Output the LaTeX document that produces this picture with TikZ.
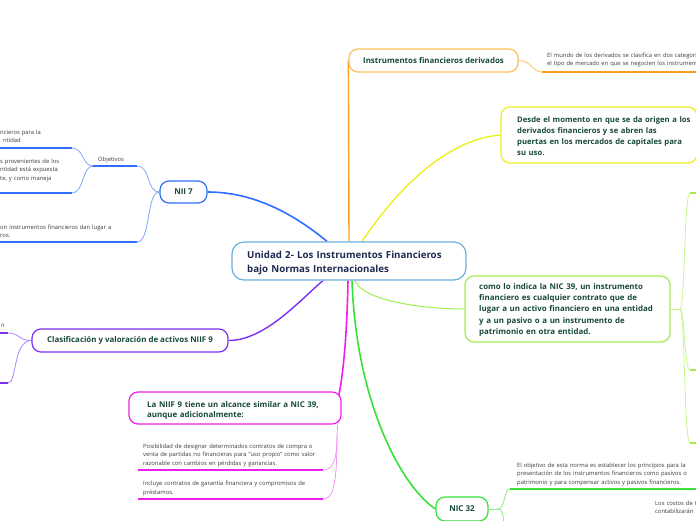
\documentclass[tikz,border=0pt]{standalone}
\usepackage{fontspec}
\setmainfont{Open Sans}
\pgfdeclarelayer{bg}
\pgfsetlayers{bg,main}
\definecolor{cblue}{HTML}{6BAEE0}
\definecolor{nblue}{HTML}{2F6EFF}
\definecolor{nblueL}{HTML}{7FA6FF}
\definecolor{orangeL}{HTML}{FFC05A}
\definecolor{orangeD}{HTML}{FF9E1B}
\definecolor{yel}{HTML}{EEEE22}
\definecolor{lime}{HTML}{A2EC50}
\definecolor{limeL}{HTML}{C6F590}
\definecolor{grn}{HTML}{38E038}
\definecolor{grnL}{HTML}{86EE86}
\definecolor{purp}{HTML}{7A30F5}
\definecolor{purpL}{HTML}{AB84FF}
\definecolor{mag}{HTML}{EE1EEE}
\definecolor{magL}{HTML}{F590F5}
\definecolor{tgreen}{HTML}{17493A}
\definecolor{navy}{HTML}{1E2A50}
\definecolor{tgray}{HTML}{3A3A3A}
\tikzset{
  box/.style={draw, fill=white, rounded corners=9pt, line width=1.2pt, inner sep=0pt},
  ttl/.style={font=\bfseries\fontsize{7.9}{11.1}\selectfont, text=tgreen},
  ttlblk/.style={ttl, inner sep=0pt, anchor=base west, align=left, text width=250pt},
  sml/.style={font=\fontsize{5.85}{8.7}\selectfont, text=tgray, inner sep=0pt, anchor=base west, align=left, text width=250pt},
  lbl/.style={font=\fontsize{5.85}{8.7}\selectfont, text=tgray, inner sep=0pt, anchor=base},
  conn/.style={line width=1.6pt},
  subl/.style={line width=0.8pt},
  uline/.style={line width=1.5pt},
}
\begin{document}
\begin{tikzpicture}[x=1pt,y=-1pt]
\path[use as bounding box] (0,0) rectangle (696,520);
\clip (0,0) rectangle (696,520);

% ---------- boxes ----------
\node[box, draw=cblue, rounded corners=12pt, minimum width=234pt, minimum height=38pt] (cen) at (349,261) {};
\node[font=\bfseries\fontsize{9.7}{14}\selectfont, text=navy, inner sep=0pt, anchor=base west, align=left, text width=230pt] (cent) at (247,258) {Unidad 2- Los Instrumentos Financieros\\bajo Normas Internacionales};

\node[box, draw=orangeL, ttl, minimum width=169pt, minimum height=23pt] (ins) at (433.5,60.5) {Instrumentos financieros derivados};

\node[box, draw=yel, minimum width=196pt, minimum height=56pt] (des) at (599,135) {};
\node[ttlblk, font=\bfseries\fontsize{7.7}{11.1}\selectfont] (dest) at (517,122.5) {Desde el momento en que se da origen a los\\derivados financieros y se abren las\\puertas en los mercados de capitales para\\su uso.};

\node[box, draw=lime, minimum width=205pt, minimum height=66pt] (como) at (567.5,309) {};
\node[ttlblk, font=\bfseries\fontsize{7.9}{11.25}\selectfont] (comot) at (479,289.3) {como lo indica la NIC 39, un instrumento\\financiero es cualquier contrato que de\\lugar a un activo financiero en una entidad\\y a un pasivo o a un instrumento de\\patrimonio en otra entidad.};

\node[box, draw=nblue, ttl, font=\bfseries\fontsize{8}{10}\selectfont, minimum width=47pt, minimum height=22pt] (nii) at (183.5,192) {NII 7};

\node[box, draw=purp, ttl, minimum width=196pt, minimum height=23pt] (cls) at (130,340.5) {Clasificación y valoración de activos NIIF 9};

\node[box, draw=mag, minimum width=212pt, minimum height=32pt] (niif) at (235,408) {};
\node[ttlblk, font=\bfseries\fontsize{7.9}{10.5}\selectfont] (niift) at (147,407) {La NIIF 9 tiene un alcance similar a NIC 39,\\aunque adicionalmente:};

\node[box, draw=grn, ttl, font=\bfseries\fontsize{8}{10}\selectfont, minimum width=52pt, minimum height=24pt] (nic) at (462,509) {NIC 32};

% ---------- coordinates ----------
\coordinate (o1a) at (542,72);  \coordinate (o1b) at (697,72);
\coordinate (oa) at (93,166);   \coordinate (ob) at (137,166);
\coordinate (n3a) at (-2,242);  \coordinate (n3) at (137,242);
\coordinate (b1a) at (-2,148);  \coordinate (b1) at (72,148);
\coordinate (b2a) at (-2,193);  \coordinate (b2) at (72,193);
\coordinate (p1a) at (-2,333);  \coordinate (p1) at (8,333);
\coordinate (p2a) at (-2,383);  \coordinate (p2) at (8,383);
\coordinate (mb) at (337,436);
\coordinate (m1a) at (138,470); \coordinate (m1) at (323,470);
\coordinate (m2a) at (138,499); \coordinate (m2) at (323,499);
\coordinate (lb) at (680,309);
\coordinate (l1) at (690,193);  \coordinate (l1a) at (697,193);
\coordinate (l2) at (690,370);  \coordinate (l2a) at (697,370);
\coordinate (l3) at (690,443);  \coordinate (l3a) at (697,443);
\coordinate (gb) at (498,509);
\coordinate (g1) at (510,489);  \coordinate (g1a) at (697,489);
\coordinate (g2) at (504,526);

% ---------- connectors (behind boxes) ----------
\begin{pgfonlayer}{bg}
\draw[conn, nblue] (nii.east) .. controls (255,192) and (295,215) .. ([xshift=-22pt]cen.north);
\draw[conn, orangeD, line width=1.4pt] (cen.north) -- (ins.west);
\draw[conn, yel, line width=1.4pt] ([xshift=13pt]cen.north) .. controls (390,200) and (440,140) .. (des.west);
\draw[conn, purp, line width=1.4pt] ([xshift=-26pt]cen.south) .. controls (300,300) and (265,340.5) .. (cls.east);
\draw[conn, mag] ([xshift=-1pt]cen.south) .. controls (347,330) and (344,370) .. ([xshift=-3pt,yshift=-5pt]niif.north east);
\draw[conn, grn] ([xshift=3pt]cen.south) .. controls (356,400) and (400,485) .. (nic.west);
\draw[conn, lime, line width=1pt] ([xshift=6pt]cen.south) .. controls (362,300) and (420,309) .. (como.west);

\draw[subl, orangeL] (ins.east) .. controls (532,60.5) and (532,72) .. (o1a);
\draw[subl, nblueL] (nii.west) .. controls (146,192) and (151,166) .. (ob);
\draw[subl, nblueL] (nii.west) .. controls (146,192) and (151,242) .. (n3);
\draw[subl, nblueL] (oa) .. controls (82,166) and (84,148) .. (b1);
\draw[subl, nblueL] (oa) .. controls (82,166) and (84,193) .. (b2);
\draw[subl, purpL] (cls.west) .. controls (18,340.5) and (20,333) .. (p1);
\draw[subl, purpL] (cls.west) .. controls (13,340.5) and (17,383) .. (p2);
\draw[subl, magL] ([xshift=-4pt]niif.south east) -- (mb);
\draw[subl, magL] (mb) .. controls (337,462) and (332,470) .. (m1);
\draw[subl, magL] (mb) .. controls (337,490) and (332,499) .. (m2);
\draw[subl, limeL] (como.east) -- (lb);
\draw[subl, limeL] (lb) .. controls (685,309) and (684,193) .. (l1);
\draw[subl, limeL] (lb) .. controls (685,309) and (684,370) .. (l2);
\draw[subl, limeL] (lb) .. controls (685,309) and (684,443) .. (l3);
\draw[subl, grnL] (nic.east) -- (gb);
\draw[subl, grnL] (gb) .. controls (505,509) and (504,489) .. (g1);
\draw[subl, grnL] (gb) .. controls (503,509) and (503,515) .. (g2);
\end{pgfonlayer}

% ---------- underlines ----------
\draw[uline, orangeD] (o1a) -- (o1b);
\draw[uline, nblue] (oa) -- (ob);
\draw[uline, nblue] (n3a) -- (n3);
\draw[uline, nblue] (b1a) -- (b1);
\draw[uline, nblue] (b2a) -- (b2);
\draw[uline, purp] (p1a) -- (p1);
\draw[uline, purp] (p2a) -- (p2);
\draw[uline, mag] (m1a) -- (m1);
\draw[uline, mag] (m2a) -- (m2);
\draw[uline, lime] (l1) -- (l1a);
\draw[uline, lime] (l2) -- (l2a);
\draw[uline, lime] (l3) -- (l3a);
\draw[uline, grn] (g1) -- (g1a);

% ---------- small texts ----------
\node[sml] (o1t) at (547,57) {El mundo de los derivados se clasifica en dos categori\\el tipo de mercado en que se negocien los instrument};
\node[lbl] (objt) at (111,161) {Objetivos};
\node[sml] (t1) at (0,134) {ncieros para la\\\hspace*{3pt}ntidad};
\node[sml] (t2) at (0,163) {s provenientes de los\\ntidad está expuesta\\te, y como maneja};
\node[sml] (t3) at (0,229) {on instrumentos financieros dan lugar a\\ros.};
\node[sml] (pt) at (1,327) {n};
\node[sml] (m1t) at (143,448) {Posibilidad de designar determinados contratos de compra o\\venta de partidas no financieras para "uso propio" como valor\\razonable con cambios en pérdidas y ganancias.};
\node[sml] (m2t) at (143,485.5) {Incluye contratos de garantía financiera y compromisos de\\préstamos.};
\node[sml] (g1t) at (517,467) {El objetivo de esta norma es establecer los principios para la\\presentación de los instrumentos financieros como pasivos o\\patrimonio y para compensar activos y pasivos financieros.};
\node[sml] (g2t) at (655,505) {Los costos de t\\contabilizarán};
\end{tikzpicture}
\end{document}
